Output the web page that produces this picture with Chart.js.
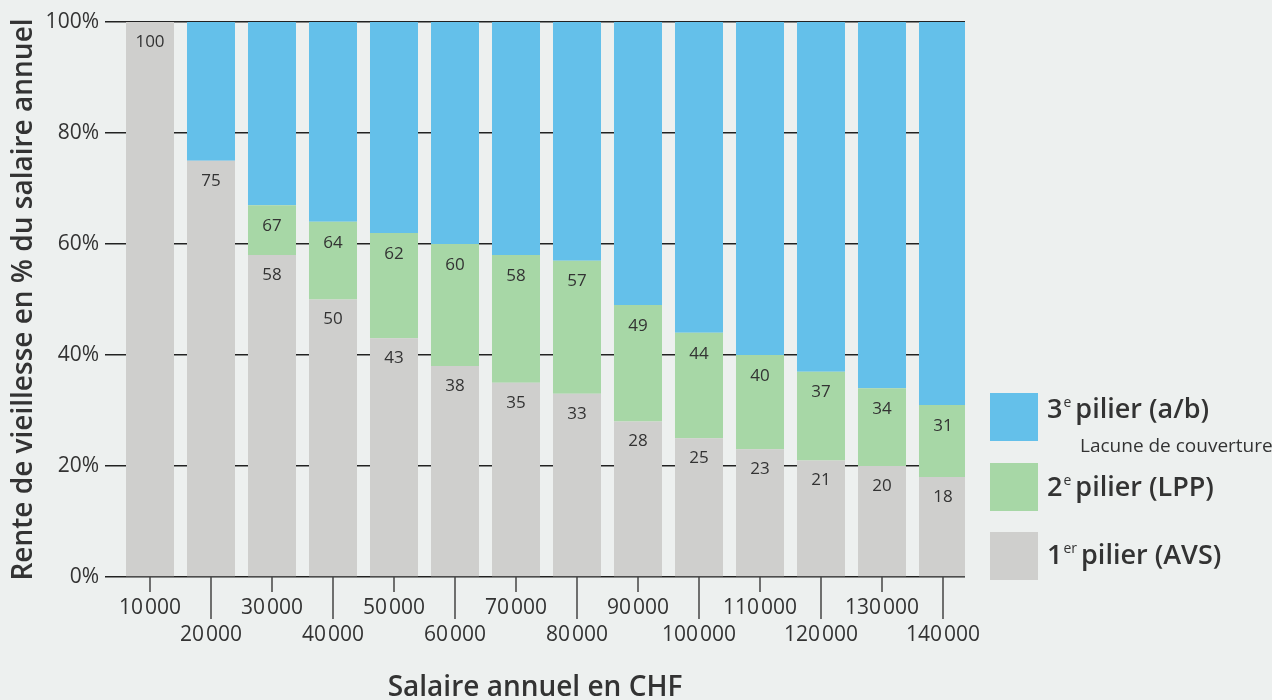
<!DOCTYPE html>
<html>
<head>
<meta charset="utf-8">
<title>Rente de vieillesse</title>
<script src="https://cdn.jsdelivr.net/npm/chart.js@4.4.1/dist/chart.umd.min.js"></script>
<style>
  html, body { margin: 0; padding: 0; }
  body {
    width: 1272px; height: 700px; overflow: hidden; position: relative;
    background: #edf0ef;
    font-family: "Open Sans", "Noto Sans", sans-serif;
    color: #333;
  }
  #wrap { position: absolute; left: 0; top: 0; width: 1272px; height: 700px; }
  .box { position: absolute; left: 990px; width: 48px; height: 48px; }
  .lbl { position: absolute; left: 1047px; font-size: 27px; font-weight: 600; line-height: 32px; white-space: nowrap; }
  .lbl sup { font-size: 14px; font-weight: 400; vertical-align: 0; position: relative; top: -11px; margin-left: 1px; margin-right: 4px; }
  .sub { position: absolute; left: 1080px; font-size: 19px; line-height: 22px; white-space: nowrap; }
</style>
</head>
<body>
<div id="wrap"><canvas id="chart" width="1272" height="700"></canvas></div>
<div class="box" style="top:393px" id="boxBlue"></div>
<div class="lbl" style="top:392px">3<sup>e</sup>pilier (a/b)</div>
<div class="sub" style="top:434px">Lacune de couverture</div>
<div class="box" style="top:463px" id="boxGreen"></div>
<div class="lbl" style="top:470px">2<sup>e</sup>pilier (LPP)</div>
<div class="box" style="top:532px" id="boxGrey"></div>
<div class="lbl" style="top:538px">1<sup>er</sup>pilier (AVS)</div>
<script>
// salaire annuel en CHF
var salaries = [10000, 20000, 30000, 40000, 50000, 60000, 70000, 80000, 90000, 100000, 110000, 120000, 130000, 140000];
// 1er pilier (AVS), en % du salaire
var avs = [100, 75, 58, 50, 43, 38, 35, 33, 28, 25, 23, 21, 20, 18];
// 2e pilier (LPP)
var lpp = [0, 0, 9, 14, 19, 22, 23, 24, 21, 19, 17, 16, 14, 13];
// 3e pilier / lacune
var gap = [0, 25, 33, 36, 38, 40, 42, 43, 51, 56, 60, 63, 66, 69];
// labels printed on the green parts (AVS + LPP)
var totals = [null, null, 67, 64, 62, 60, 58, 57, 49, 44, 40, 37, 34, 31];
var yTicks = [0, 20, 40, 60, 80, 100];

var GREY = '#cfcfcd', GREEN = '#a7d7a6', BLUE = '#64c0ea', TXT = '#333';
document.getElementById('boxBlue').style.background = BLUE;
document.getElementById('boxGreen').style.background = GREEN;
document.getElementById('boxGrey').style.background = GREY;

function fmt(v) {
    return String(v).replace(/\B(?=(\d{3})+(?!\d))/g, '\u200A');
}
function pts(arr) {
    return salaries.map(function (s, i) { return { x: s, y: arr[i] }; });
}

// value labels inside the bars
var barLabels = {
    id: 'barLabels',
    afterDatasetsDraw: function (chart) {
        var ctx = chart.ctx;
        ctx.save();
        ctx.font = '17px "Open Sans"';
        ctx.fillStyle = TXT;
        ctx.textAlign = 'center';
        ctx.textBaseline = 'middle';
        chart.getDatasetMeta(0).data.forEach(function (el, i) {
            ctx.fillText(avs[i], el.x, el.y + 20);
        });
        chart.getDatasetMeta(1).data.forEach(function (el, i) {
            if (totals[i] != null) ctx.fillText(totals[i], el.x, el.y + 21);
        });
        ctx.restore();
    }
};

// alternating short / long tick marks below the x axis
var xTickMarks = {
    id: 'xTickMarks',
    afterDraw: function (chart) {
        var ctx = chart.ctx, sc = chart.scales.x, y0 = chart.chartArea.bottom;
        ctx.save();
        ctx.strokeStyle = '#444';
        ctx.lineWidth = 1.5;
        salaries.forEach(function (s, i) {
            var x = sc.getPixelForValue(s);
            ctx.beginPath();
            ctx.moveTo(x, y0);
            ctx.lineTo(x, y0 + (i % 2 === 0 ? 15 : 42));
            ctx.stroke();
        });
        ctx.restore();
    }
};

new Chart(document.getElementById('chart'), {
    type: 'bar',
    data: {
        datasets: [
            { label: '1er pilier (AVS)', data: pts(avs), backgroundColor: GREY },
            { label: '2e pilier (LPP)', data: pts(lpp), backgroundColor: GREEN },
            { label: '3e pilier (a/b)', data: pts(gap), backgroundColor: BLUE }
        ]
    },
    options: {
        responsive: false,
        animation: false,
        events: [],
        layout: { padding: { top: 22, right: 307, left: 0, bottom: 0 } },
        categoryPercentage: 0.787,
        barPercentage: 1,
        plugins: { legend: { display: false }, tooltip: { enabled: false } },
        scales: {
            x: {
                type: 'linear',
                stacked: true,
                offset: false,
                min: 2623,
                max: 143607,
                afterBuildTicks: function (sc) {
                    sc.ticks = salaries.map(function (v) { return { value: v }; });
                },
                afterFit: function (sc) { sc.height = 123; },
                grid: { display: false, drawTicks: false, offset: false },
                border: { display: false },
                ticks: {
                    autoSkip: false,
                    maxRotation: 0,
                    padding: 17,
                    color: TXT,
                    font: { family: 'Open Sans', size: 21, lineHeight: 1.3 },
                    callback: function (v, i) {
                        return i % 2 === 0 ? [fmt(v)] : ['', fmt(v)];
                    }
                },
                title: {
                    display: true,
                    text: 'Salaire annuel en CHF',
                    color: TXT,
                    font: { family: 'Open Sans', size: 28, weight: '600', lineHeight: 1 },
                    padding: { top: 0, bottom: -2 }
                }
            },
            y: {
                stacked: true,
                min: 0,
                max: 100,
                z: 1,
                afterBuildTicks: function (sc) {
                    sc.ticks = yTicks.map(function (v) { return { value: v }; });
                },
                afterFit: function (sc) { sc.width = 105; },
                grid: { color: '#222', lineWidth: 1.5, drawTicks: false },
                border: { display: false },
                ticks: {
                    padding: 6,
                    color: TXT,
                    font: { family: 'Open Sans', size: 21 },
                    callback: function (v) { return v + '%'; }
                },
                title: {
                    display: true,
                    text: 'Rente de vieillesse en % du salaire annuel',
                    color: TXT,
                    font: { family: 'Open Sans', size: 28, weight: '600', lineHeight: 1 },
                    padding: { top: 10, bottom: 0 }
                }
            }
        }
    },
    plugins: [barLabels, xTickMarks]
});
</script>
</body>
</html>
